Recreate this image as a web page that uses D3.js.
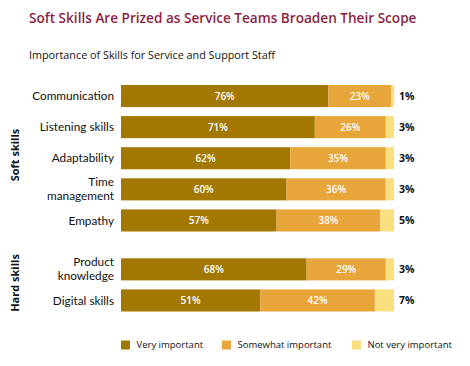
<!DOCTYPE html>
<html>
<head>
<meta charset="utf-8">
<script src="https://cdn.jsdelivr.net/npm/d3@7"></script>
<style>
  body { margin: 0; background: white; }
  svg { font-family: "Open Sans", "Noto Sans", sans-serif; }
</style>
</head>
<body>
<script>
// data
const skills = ["Communication", "Listening skills", "Adaptability", "Time management", "Empathy", "Product knowledge", "Digital skills"];
const groups = ["soft", "soft", "soft", "soft", "soft", "hard", "hard"];
const veryImportant = [76, 71, 62, 60, 57, 68, 51];
const somewhatImportant = [23, 26, 35, 36, 38, 29, 42];
const notVeryImportant = [1, 3, 3, 3, 5, 3, 7];
const seriesNames = ["Very important", "Somewhat important", "Not very important"];
const seriesKeys = ["very", "some", "not"];
const colors = ["#A27800", "#E8A53A", "#F9DF80"];

const rows = skills.map((s, i) => ({
  skill: s, group: groups[i],
  very: veryImportant[i], some: somewhatImportant[i], not: notVeryImportant[i]
}));

const W = 470, H = 366;
const svg = d3.select("body").append("svg")
  .attr("width", W)
  .attr("height", H);

svg.append("text")
  .attr("x", 29).attr("y", 23)
  .attr("fill", "#8E1F45")
  .style("font-size", "13.6px")
  .style("font-weight", 600)
  .text("Soft Skills Are Prized as Service Teams Broaden Their Scope");

svg.append("text")
  .attr("x", 29).attr("y", 58.5)
  .attr("fill", "#111")
  .style("font-size", "10.8px")
  .text("Importance of Skills for Service and Support Staff");

const x = d3.scaleLinear().domain([0, 1]).range([121, 394]);
const step = 31.1;
const y = d3.scaleBand()
  .domain(skills)
  .range([85, 85 + step * (skills.length - 0.29)])
  .paddingInner(0.29);
const gap = 17.8;
const rowY = d => y(d.skill) + (d.group === "hard" ? gap : 0);

const stack = d3.stack().keys(seriesKeys).offset(d3.stackOffsetExpand);
const series = stack(rows);

const layer = svg.selectAll(".layer")
  .data(series)
  .join("g")
  .attr("class", "layer")
  .attr("fill", (d, i) => colors[i]);

layer.selectAll("rect")
  .data(d => d)
  .join("rect")
  .attr("x", d => x(d[0]))
  .attr("y", d => rowY(d.data))
  .attr("width", d => x(d[1]) - x(d[0]))
  .attr("height", y.bandwidth());

// labels in bars (first two series)
series.slice(0, 2).forEach(s => {
  svg.selectAll(".in-" + s.key)
    .data(s)
    .join("text")
    .attr("class", "in-" + s.key)
    .attr("x", d => (x(d[0]) + x(d[1])) / 2)
    .attr("y", d => rowY(d.data) + y.bandwidth() / 2)
    .attr("dy", "0.35em")
    .attr("text-anchor", "middle")
    .attr("fill", "white")
    .style("font-size", "10px")
    .style("font-weight", 600)
    .text(d => d.data[s.key] + "%");
});

// labels to the right
svg.selectAll(".right-label")
  .data(rows)
  .join("text")
  .attr("class", "right-label")
  .attr("x", 399)
  .attr("y", d => rowY(d) + y.bandwidth() / 2)
  .attr("dy", "0.35em")
  .attr("fill", "#111")
  .style("font-size", "10.5px")
  .style("font-weight", 700)
  .text(d => d.not + "%");

// category labels, one text per line
const catLines = [];
rows.forEach(d => {
  const cy = rowY(d) + y.bandwidth() / 2;
  if (d.skill === "Time management" || d.skill === "Product knowledge") {
    const words = d.skill.split(" ");
    catLines.push({text: words[0], y: cy - 7});
    catLines.push({text: words[1], y: cy + 7});
  } else {
    catLines.push({text: d.skill, y: cy});
  }
});
svg.selectAll(".cat")
  .data(catLines)
  .join("text")
  .attr("class", "cat")
  .attr("x", 114)
  .attr("y", d => d.y)
  .attr("dy", "0.35em")
  .attr("text-anchor", "end")
  .attr("fill", "#111")
  .style("font-family", "Lato, sans-serif")
  .style("font-size", "11.8px")
  .text(d => d.text);

// group labels
const groupLabels = [
  {name: "Soft skills", y: 155},
  {name: "Hard skills", y: 283}
];
svg.selectAll(".grp")
  .data(groupLabels)
  .join("text")
  .attr("class", "grp")
  .attr("transform", d => `translate(19,${d.y}) rotate(-90)`)
  .attr("text-anchor", "middle")
  .attr("fill", "#111")
  .style("font-size", "11px")
  .style("font-weight", 700)
  .text(d => d.name);

// legend
const legendX = [121, 222, 352];
const legend = svg.selectAll(".leg")
  .data(seriesNames)
  .join("g")
  .attr("class", "leg")
  .attr("transform", (d, i) => `translate(${legendX[i]},340.5)`);
legend.append("rect")
  .attr("width", 9).attr("height", 9)
  .attr("fill", (d, i) => colors[i]);
legend.append("text")
  .attr("x", 15.5).attr("y", 4.5).attr("dy", "0.35em")
  .attr("fill", "#111")
  .style("font-size", "9.5px")
  .text(d => d);
</script>
</body>
</html>
